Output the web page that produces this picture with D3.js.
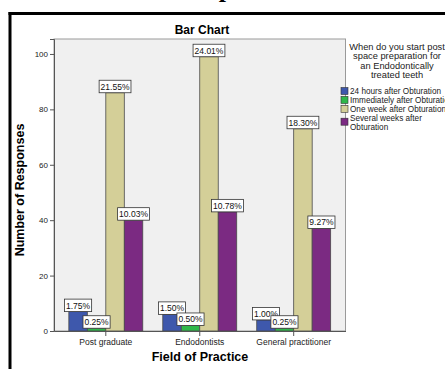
<!DOCTYPE html>
<html>
<head>
<meta charset="utf-8">
<script src="https://cdn.jsdelivr.net/npm/d3@7"></script>
<style>
  html, body { margin: 0; padding: 0; background: #ffffff; }
  svg { display: block; font-family: "Liberation Sans", Arial, sans-serif; }
</style>
</head>
<body>
<svg id="chart" width="445" height="369"></svg>
<script>
// Field of practice groups on the x axis
const categories = ["Post graduate", "Endodontists", "General practitioner"];

// Legend entries (one bar per entry within each group)
const seriesNames = [
  "24 hours after Obturation",
  "Immediately after Obturation",
  "One week after Obturation",
  "Several weeks after Obturation"
];

// Number of responses per group, one array per series
const counts24Hours   = [7, 6, 4];
const countsImmediate = [1, 2, 1];
const countsOneWeek   = [86, 99, 73];
const countsSeveral   = [40, 43, 37];

// Percentage labels printed above each bar
const pct24Hours   = ["1.75%", "1.50%", "1.00%"];
const pctImmediate = ["0.25%", "0.50%", "0.25%"];
const pctOneWeek   = ["21.55%", "24.01%", "18.30%"];
const pctSeveral   = ["10.03%", "10.78%", "9.27%"];

const yTicks = [0, 20, 40, 60, 80, 100];

const seriesColors = ["#3e58ac", "#2fb74a", "#d4cf98", "#7b2a82"];

const seriesCounts = [counts24Hours, countsImmediate, countsOneWeek, countsSeveral];
const seriesPct = [pct24Hours, pctImmediate, pctOneWeek, pctSeveral];

const svg = d3.select("#chart");

// Figure frame (thick black rule at top and left) and the heading above it
svg.append("text")
  .attr("x", 226).attr("y", -3)
  .attr("text-anchor", "middle")
  .style("font-family", "'Liberation Serif', 'Times New Roman', serif")
  .style("font-weight", "bold")
  .style("font-size", "26px")
  .text("p");
svg.append("line").attr("x1", 8.5).attr("x2", 445).attr("y1", 13.5).attr("y2", 13.5)
  .attr("stroke", "#000").attr("stroke-width", 3);
svg.append("line").attr("x1", 10).attr("x2", 10).attr("y1", 12).attr("y2", 369)
  .attr("stroke", "#000").attr("stroke-width", 3);

const plot = { left: 54, top: 39, right: 345.5, bottom: 331 };

const x0 = d3.scaleBand()
  .domain(categories)
  .range([plot.left, plot.right])
  .paddingInner(0.213)
  .paddingOuter(0.158);

const x1 = d3.scaleBand()
  .domain(d3.range(seriesNames.length))
  .range([0, x0.bandwidth()]);

const y = d3.scaleLinear()
  .domain([0, 105.4])
  .range([plot.bottom, plot.top]);

// Chart title
svg.append("text")
  .attr("x", 202).attr("y", 34)
  .attr("text-anchor", "middle")
  .style("font-weight", "bold")
  .style("font-size", "12px")
  .text("Bar Chart");

// Plot background
svg.append("rect")
  .attr("x", plot.left).attr("y", plot.top)
  .attr("width", plot.right - plot.left)
  .attr("height", plot.bottom - plot.top)
  .attr("fill", "#f0f0f0")
  .attr("stroke", "#9a9a9a")
  .attr("stroke-width", 1);

// Bars
const groups = svg.append("g").selectAll("g")
  .data(categories)
  .join("g")
  .attr("transform", d => `translate(${x0(d)},0)`);

groups.selectAll("rect")
  .data((d, gi) => seriesCounts.map((arr, si) => ({ si, v: arr[gi] })))
  .join("rect")
  .attr("x", d => x1(d.si))
  .attr("y", d => y(d.v))
  .attr("width", x1.bandwidth())
  .attr("height", d => y(0) - y(d.v))
  .attr("fill", d => seriesColors[d.si])
  .attr("stroke", "#4a4a4a")
  .attr("stroke-width", 0.8);

// Percentage labels in white boxes sitting on each bar
const labels = groups.selectAll("g.lbl")
  .data((d, gi) => seriesCounts.map((arr, si) => ({ si, v: arr[gi], t: seriesPct[si][gi] })))
  .join("g")
  .attr("class", "lbl");

labels.each(function(d) {
  const g = d3.select(this);
  const cx = x1(d.si) + x1.bandwidth() / 2;
  const bottom = y(d.v);
  const rect = g.append("rect");
  const txt = g.append("text")
    .attr("x", cx)
    .attr("y", bottom - 3)
    .attr("text-anchor", "middle")
    .style("font-size", "8.5px")
    .attr("fill", "#111")
    .text(d.t);
  const w = txt.node().getComputedTextLength() + 3;
  rect.attr("x", cx - w / 2)
    .attr("y", bottom - 12.5)
    .attr("width", w)
    .attr("height", 12.5)
    .attr("fill", "#ffffff")
    .attr("stroke", "#333")
    .attr("stroke-width", 0.8);
});

// Y axis
const yAxis = svg.append("g")
  .attr("transform", `translate(${plot.left},0)`)
  .call(d3.axisLeft(y).tickValues(yTicks).tickSize(4).tickPadding(2));
yAxis.select(".domain").attr("stroke", "#555");
yAxis.selectAll(".tick line").attr("stroke", "#555");
yAxis.selectAll(".tick text")
  .style("font-size", "8px")
  .style("font-family", "'Liberation Sans', Arial, sans-serif")
  .attr("fill", "#222");

// X axis
const xAxis = svg.append("g")
  .attr("transform", `translate(0,${plot.bottom})`)
  .call(d3.axisBottom(x0).tickSize(5).tickPadding(3).tickSizeOuter(0));
xAxis.select(".domain").attr("stroke", "#555");
xAxis.selectAll(".tick line").attr("stroke", "#555");
xAxis.selectAll(".tick text")
  .style("font-size", "8.5px")
  .style("font-family", "'Liberation Sans', Arial, sans-serif")
  .attr("fill", "#222");

// Axis titles
svg.append("text")
  .attr("transform", "translate(24,190) rotate(-90)")
  .attr("text-anchor", "middle")
  .style("font-weight", "bold")
  .style("font-size", "12.5px")
  .text("Number of Responses");

svg.append("text")
  .attr("x", 200).attr("y", 361)
  .attr("text-anchor", "middle")
  .style("font-weight", "bold")
  .style("font-size", "12.5px")
  .text("Field of Practice");

// Legend
const legendTitle = ["When do you start post", "space preparation for", "an Endodontically", "treated teeth"];
svg.append("g").selectAll("text")
  .data(legendTitle)
  .join("text")
  .attr("x", 397)
  .attr("y", (d, i) => 50 + i * 9.4)
  .attr("text-anchor", "middle")
  .style("font-size", "9.3px")
  .attr("fill", "#222")
  .text(d => d);

const legendLines = [
  ["24 hours after Obturation"],
  ["Immediately after Obturation"],
  ["One week after Obturation"],
  ["Several weeks after", "Obturation"]
];
const legend = svg.append("g").selectAll("g")
  .data(seriesNames)
  .join("g")
  .attr("transform", (d, i) => `translate(341,${91 + i * 8.9})`);
legend.append("rect")
  .attr("x", 0)
  .attr("y", (d, i) => i === 3 ? 0.5 : -3.5)
  .attr("width", 7).attr("height", 7)
  .attr("fill", (d, i) => seriesColors[i])
  .attr("stroke", "#333")
  .attr("stroke-width", 0.6);
legend.each(function(d, i) {
  d3.select(this).selectAll("text")
    .data(legendLines[i])
    .join("text")
    .attr("x", 9)
    .attr("y", (t, j) => 3 + j * 8.9)
    .style("font-size", "8.2px")
    .attr("fill", "#222")
    .text(t => t);
});
</script>
</body>
</html>
